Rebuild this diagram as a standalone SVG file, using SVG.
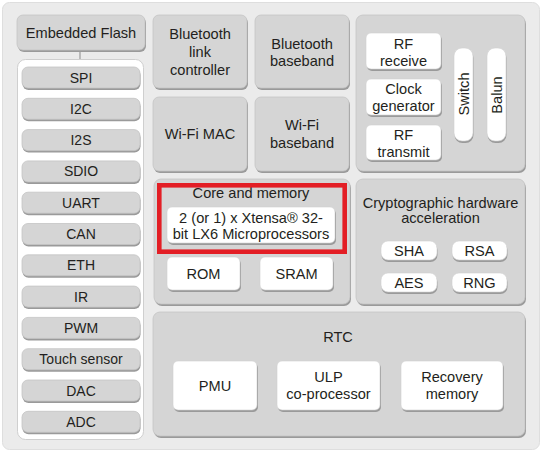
<svg xmlns="http://www.w3.org/2000/svg" width="542" height="452" viewBox="0 0 542 452">
<style>
text{font-family:"Liberation Sans",Arial,sans-serif;font-size:14.6px;fill:#231f20;text-anchor:middle}
.sm{font-size:14px}
.bg{fill:#ebebeb;stroke:#dedede;stroke-width:1}
.pn{fill:#d5d5d5;stroke:#c4c4c4;stroke-width:0.8}
.sh{fill:#9a9a9a}
.wt{fill:#ffffff;stroke:#d0d0d0;stroke-width:0.6}
.pc{fill:#ffffff;stroke:#cfcfcf;stroke-width:1}
.red{fill:none;stroke:#e31e25;stroke-width:4.6}
.ln{stroke:#9a9a9a;stroke-width:1.2;fill:none}
</style>
<rect x="0" y="0" width="542" height="452" fill="#ffffff"/>
<rect class="bg" x="2.5" y="2.5" width="537" height="447" rx="7"/>

<g id="connectors">
<line class="ln" x1="80" y1="50" x2="80" y2="68"/>
</g>

<g id="embedded-flash">
<rect class="sh" x="18" y="17" width="128" height="35" rx="6"/>
<rect class="pn" x="17" y="15" width="128" height="35" rx="6"/>
<text x="81" y="38">Embedded Flash</text>
</g>

<g id="peripherals">
<rect class="pc" x="17.5" y="59.5" width="126" height="380" rx="8"/>
</g>
<g id="spi"><rect class="sh" x="22.5" y="69" width="118" height="21" rx="6"/><rect class="pn" x="22" y="67" width="118" height="21" rx="6"/><text class="sm" x="81" y="82.5">SPI</text></g>
<g id="i2c"><rect class="sh" x="22.5" y="100.3" width="118" height="21" rx="6"/><rect class="pn" x="22" y="98.3" width="118" height="21" rx="6"/><text class="sm" x="81" y="113.8">I2C</text></g>
<g id="i2s"><rect class="sh" x="22.5" y="131.6" width="118" height="21" rx="6"/><rect class="pn" x="22" y="129.6" width="118" height="21" rx="6"/><text class="sm" x="81" y="145.1">I2S</text></g>
<g id="sdio"><rect class="sh" x="22.5" y="162.9" width="118" height="21" rx="6"/><rect class="pn" x="22" y="160.9" width="118" height="21" rx="6"/><text class="sm" x="81" y="176.4">SDIO</text></g>
<g id="uart"><rect class="sh" x="22.5" y="194.2" width="118" height="21" rx="6"/><rect class="pn" x="22" y="192.2" width="118" height="21" rx="6"/><text class="sm" x="81" y="207.7">UART</text></g>
<g id="can"><rect class="sh" x="22.5" y="225.5" width="118" height="21" rx="6"/><rect class="pn" x="22" y="223.5" width="118" height="21" rx="6"/><text class="sm" x="81" y="239">CAN</text></g>
<g id="eth"><rect class="sh" x="22.5" y="256.8" width="118" height="21" rx="6"/><rect class="pn" x="22" y="254.8" width="118" height="21" rx="6"/><text class="sm" x="81" y="270.3">ETH</text></g>
<g id="ir"><rect class="sh" x="22.5" y="288.1" width="118" height="21" rx="6"/><rect class="pn" x="22" y="286.1" width="118" height="21" rx="6"/><text class="sm" x="81" y="301.6">IR</text></g>
<g id="pwm"><rect class="sh" x="22.5" y="319.4" width="118" height="21" rx="6"/><rect class="pn" x="22" y="317.4" width="118" height="21" rx="6"/><text class="sm" x="81" y="332.9">PWM</text></g>
<g id="touch"><rect class="sh" x="22.5" y="350.7" width="118" height="21" rx="6"/><rect class="pn" x="22" y="348.7" width="118" height="21" rx="6"/><text class="sm" x="81" y="364.2">Touch sensor</text></g>
<g id="dac"><rect class="sh" x="22.5" y="382" width="118" height="21" rx="6"/><rect class="pn" x="22" y="380" width="118" height="21" rx="6"/><text class="sm" x="81" y="395.5">DAC</text></g>
<g id="adc"><rect class="sh" x="22.5" y="413.3" width="118" height="21" rx="6"/><rect class="pn" x="22" y="411.3" width="118" height="21" rx="6"/><text class="sm" x="81" y="426.8">ADC</text></g>

<g id="bt-link">
<rect class="sh" x="154" y="17" width="94" height="73" rx="6"/>
<rect class="pn" x="153" y="15" width="94" height="73" rx="6"/>
<text x="200" y="39">Bluetooth</text><text x="200" y="57">link</text><text x="200" y="75">controller</text>
</g>
<g id="bt-baseband">
<rect class="sh" x="256" y="17" width="94" height="73" rx="6"/>
<rect class="pn" x="255" y="15" width="94" height="73" rx="6"/>
<text x="302" y="49">Bluetooth</text><text x="302" y="66">baseband</text>
</g>
<g id="wifi-mac">
<rect class="sh" x="154" y="99" width="94" height="74" rx="6"/>
<rect class="pn" x="153" y="97" width="94" height="74" rx="6"/>
<text x="200" y="139">Wi-Fi MAC</text>
</g>
<g id="wifi-baseband">
<rect class="sh" x="256" y="99" width="94" height="74" rx="6"/>
<rect class="pn" x="255" y="97" width="94" height="74" rx="6"/>
<text x="302" y="130">Wi-Fi</text><text x="302" y="148">baseband</text>
</g>

<g id="rf">
<rect class="sh" x="357" y="17" width="169" height="156" rx="7"/>
<rect class="pn" x="356" y="15" width="169" height="156" rx="7"/>
</g>
<g id="rf-receive"><rect class="sh" x="367" y="35" width="75" height="36" rx="5"/><rect class="wt" x="366" y="33" width="75" height="36" rx="5"/><text x="403.5" y="49">RF</text><text x="403.5" y="66">receive</text></g>
<g id="clock"><rect class="sh" x="367" y="81" width="75" height="36" rx="5"/><rect class="wt" x="366" y="79" width="75" height="36" rx="5"/><text x="403.5" y="94">Clock</text><text x="403.5" y="111">generator</text></g>
<g id="rf-transmit"><rect class="sh" x="367" y="127" width="75" height="35" rx="5"/><rect class="wt" x="366" y="125" width="75" height="35" rx="5"/><text x="403.5" y="140">RF</text><text x="403.5" y="157">transmit</text></g>
<g id="switch"><rect class="sh" x="454.5" y="50" width="19" height="93" rx="8"/><rect class="wt" x="454" y="48" width="19" height="93" rx="8"/><text transform="translate(468.5,94) rotate(-90)" x="0" y="0">Switch</text></g>
<g id="balun"><rect class="sh" x="487.5" y="50" width="19" height="93" rx="8"/><rect class="wt" x="487" y="48" width="19" height="93" rx="8"/><text transform="translate(501.5,95) rotate(-90)" x="0" y="0">Balun</text></g>

<g id="core-memory">
<rect class="sh" x="155" y="181" width="196" height="125" rx="7"/>
<rect class="pn" x="154" y="179" width="196" height="125" rx="7"/>
<text x="251" y="198">Core and memory</text>
</g>
<g id="xtensa"><rect class="sh" x="168" y="209" width="168" height="36" rx="5"/><rect class="wt" x="167" y="207" width="168" height="36" rx="5"/><text x="251" y="223">2 (or 1) x Xtensa® 32-</text><text x="251" y="239">bit LX6 Microprocessors</text></g>
<g id="highlight"><rect class="red" x="159.3" y="185.3" width="185.4" height="66.4"/></g>
<g id="rom"><rect class="sh" x="168" y="259" width="73" height="33" rx="5"/><rect class="wt" x="167" y="257" width="73" height="33" rx="5"/><text x="203.5" y="279">ROM</text></g>
<g id="sram"><rect class="sh" x="261" y="259" width="73" height="33" rx="5"/><rect class="wt" x="260" y="257" width="73" height="33" rx="5"/><text x="296.5" y="279">SRAM</text></g>

<g id="crypto">
<rect class="sh" x="357" y="181" width="169" height="125" rx="7"/>
<rect class="pn" x="356" y="179" width="169" height="125" rx="7"/>
<text x="440.5" y="208">Cryptographic hardware</text><text x="440.5" y="223">acceleration</text>
</g>
<g id="sha"><rect class="sh" x="381.5" y="243" width="56" height="19" rx="7"/><rect class="wt" x="381" y="241" width="56" height="19" rx="7"/><text x="409" y="255.5">SHA</text></g>
<g id="rsa"><rect class="sh" x="452.5" y="243" width="55" height="19" rx="7"/><rect class="wt" x="452" y="241" width="55" height="19" rx="7"/><text x="479.5" y="255.5">RSA</text></g>
<g id="aes"><rect class="sh" x="381.5" y="275" width="56" height="19" rx="7"/><rect class="wt" x="381" y="273" width="56" height="19" rx="7"/><text x="409" y="287.5">AES</text></g>
<g id="rng"><rect class="sh" x="452.5" y="275" width="55" height="19" rx="7"/><rect class="wt" x="452" y="273" width="55" height="19" rx="7"/><text x="479.5" y="287.5">RNG</text></g>

<g id="rtc">
<rect class="sh" x="154" y="314" width="372" height="124" rx="7"/>
<rect class="pn" x="153" y="312" width="372" height="124" rx="7"/>
<text x="338" y="342">RTC</text>
</g>
<g id="pmu"><rect class="sh" x="174" y="363" width="84" height="49" rx="5"/><rect class="wt" x="173" y="361" width="84" height="49" rx="5"/><text x="215" y="391">PMU</text></g>
<g id="ulp"><rect class="sh" x="278" y="363" width="103" height="49" rx="5"/><rect class="wt" x="277" y="361" width="103" height="49" rx="5"/><text x="328.5" y="382">ULP</text><text x="328.5" y="399">co-processor</text></g>
<g id="recovery"><rect class="sh" x="402" y="363" width="102" height="49" rx="5"/><rect class="wt" x="401" y="361" width="102" height="49" rx="5"/><text x="452" y="382">Recovery</text><text x="452" y="399">memory</text></g>
</svg>
